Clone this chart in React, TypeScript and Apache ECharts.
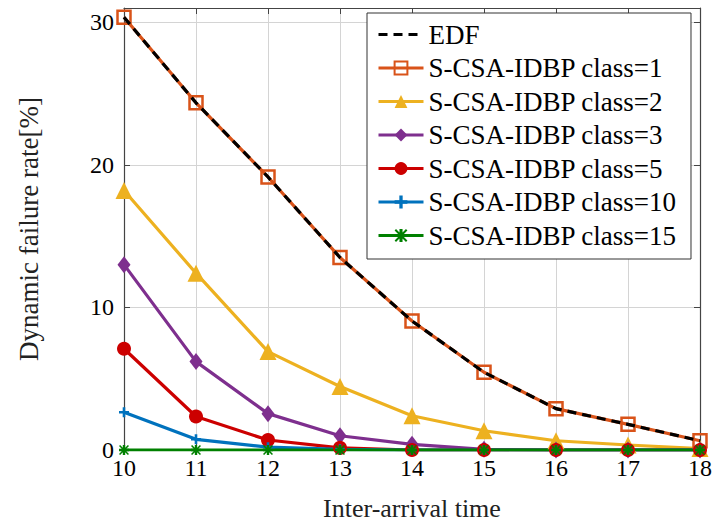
import React, { useEffect, useRef } from "react";
import * as echarts from "echarts";

const xValues = [10, 11, 12, 13, 14, 15, 16, 17, 18];
const edf = [30.35, 24.35, 19.15, 13.5, 9.05, 5.45, 2.9, 1.8, 0.65];
const class1 = [30.35, 24.35, 19.15, 13.5, 9.05, 5.45, 2.9, 1.8, 0.65];
const class2 = [18.2, 12.4, 6.9, 4.45, 2.4, 1.35, 0.65, 0.35, 0.1];
const class3 = [13.0, 6.2, 2.55, 1.0, 0.4, 0.05, 0, 0, 0];
const class5 = [7.1, 2.35, 0.7, 0.15, 0, 0, 0, 0, 0];
const class10 = [2.65, 0.75, 0.2, 0.05, 0, 0, 0, 0, 0];
const class15 = [0, 0, 0, 0, 0, 0, 0, 0, 0];

const seriesNames = [
  "EDF",
  "S-CSA-IDBP class=1",
  "S-CSA-IDBP class=2",
  "S-CSA-IDBP class=3",
  "S-CSA-IDBP class=5",
  "S-CSA-IDBP class=10",
  "S-CSA-IDBP class=15",
];

const FONT = "Liberation Serif";
const PLUS = "path://M3.7,0H6.3V3.7H10V6.3H6.3V10H3.7V6.3H0V3.7H3.7Z";
const STAR =
  "path://M0,3.8H10V6.2H0Z M3.8,0H6.2V10H3.8Z M1.1,0L10,8.9L8.9,10L0,1.1Z M8.9,0L10,1.1L1.1,10L0,8.9Z";

const pairs = (ys: number[]) => xValues.map((x, i) => [x, ys[i]]);

export default function App() {
  const ref = useRef<HTMLDivElement>(null);
  useEffect(() => {
    document.body.style.margin = "0";
    if (!ref.current) return;
    const chart = echarts.init(ref.current, null, { renderer: "svg" });
    const mk = (
      name: string,
      ys: number[],
      color: string,
      symbol: string,
      size: number | number[],
      extra: any = {}
    ) => ({
      name,
      type: "line",
      data: pairs(ys),
      symbol,
      symbolSize: size,
      showSymbol: true,
      lineStyle: { color, width: 3.2 },
      itemStyle: { color, borderColor: color, borderWidth: 0 },
      z: 2,
      ...extra,
    });
    chart.setOption({
      animation: false,
      backgroundColor: "#fff",
      grid: {
        left: 124,
        top: 8,
        right: 13,
        bottom: 72,
        show: false,
        containLabel: false,
        outerBoundsMode: "none",
      },
      legend: {
        orient: "vertical",
        left: 367,
        top: 13,
        backgroundColor: "#fff",
        borderColor: "#333",
        borderWidth: 1,
        borderRadius: 0,
        padding: [8, 14, 10, 10],
        itemGap: 6.5,
        itemWidth: 45,
        itemHeight: 16,
        lineStyle: { width: 3 },
        textStyle: { fontFamily: FONT, fontSize: 27, color: "#000", lineHeight: 27 },
        data: [
          { name: seriesNames[0], itemStyle: { color: "rgba(0,0,0,0)", borderWidth: 0, opacity: 0 } },
          ...seriesNames.slice(1),
        ],
      },
      xAxis: [
        {
          type: "value",
          min: 10,
          max: 18,
          interval: 1,
          name: "Inter-arrival time",
          nameLocation: "middle",
          nameGap: 45,
          nameTextStyle: { fontFamily: FONT, fontSize: 26, color: "#222" },
          axisLine: { show: true, onZero: false, lineStyle: { color: "#444", width: 1.2 } },
          axisTick: { show: true, inside: true, length: 6, lineStyle: { color: "#444" } },
          axisLabel: { fontFamily: FONT, fontSize: 24, color: "#000", margin: 6 },
          splitLine: { show: true, lineStyle: { color: "#d4d4d4", width: 1 } },
        },
        {
          type: "value",
          position: "top",
          min: 10,
          max: 18,
          interval: 1,
          axisLine: { show: true, onZero: false, lineStyle: { color: "#444", width: 1.2 } },
          axisTick: { show: true, inside: true, length: 6, lineStyle: { color: "#444" } },
          axisLabel: { show: false },
          splitLine: { show: false },
        },
      ],
      yAxis: [
        {
          type: "value",
          min: 0,
          max: 31,
          interval: 10,
          name: "Dynamic failure rate[%]",
          nameLocation: "middle",
          nameGap: 82,
          nameTextStyle: { fontFamily: FONT, fontSize: 27, color: "#222" },
          axisLine: { show: true, onZero: false, lineStyle: { color: "#444", width: 1.2 } },
          axisTick: { show: true, inside: true, length: 6, lineStyle: { color: "#444" } },
          axisLabel: {
            fontFamily: FONT,
            fontSize: 24,
            color: "#000",
            margin: 10,
            formatter: (v: number) => (v % 10 === 0 ? String(v) : ""),
          },
          splitLine: { show: true, lineStyle: { color: "#d4d4d4", width: 1 } },
        },
        {
          type: "value",
          position: "right",
          min: 0,
          max: 31,
          interval: 10,
          axisLine: { show: true, onZero: false, lineStyle: { color: "#444", width: 1.2 } },
          axisTick: { show: true, inside: true, length: 6, lineStyle: { color: "#444" } },
          axisLabel: { show: false },
          splitLine: { show: false },
        },
      ],
      series: [
        {
          name: seriesNames[0],
          type: "line",
          data: pairs(edf),
          symbol: "none",
          lineStyle: { color: "#000", width: 3.2, type: [9, 6] },
          itemStyle: { color: "#000" },
          z: 5,
        },
        mk(seriesNames[1], class1, "#D95319", "rect", 13, {
          itemStyle: { color: "rgba(255,255,255,0)", borderColor: "#D95319", borderWidth: 2.5 },
        }),
        mk(seriesNames[2], class2, "#EDB120", "triangle", 17),
        mk(seriesNames[3], class3, "#7E2F8E", "diamond", [13, 17]),
        mk(seriesNames[4], class5, "#CC0000", "circle", 14),
        mk(seriesNames[5], class10, "#0072BD", PLUS, 10),
        mk(seriesNames[6], class15, "#008000", STAR, 10),
      ],
    });
    return () => chart.dispose();
  }, []);
  return <div ref={ref} style={{ width: 713, height: 522 }} />;
}
